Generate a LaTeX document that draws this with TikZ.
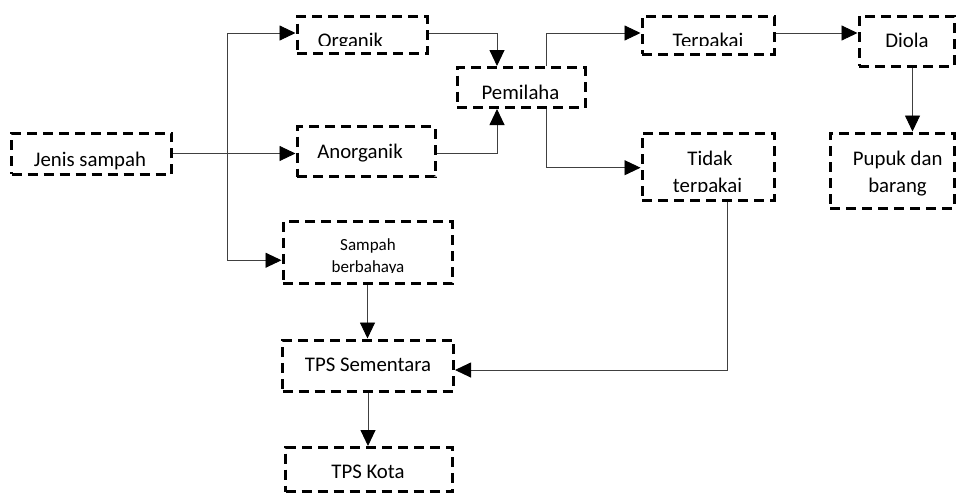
\documentclass[tikz,border=0pt]{standalone}
\usepackage{fontspec}
\setmainfont{Carlito}
\usetikzlibrary{arrows.meta,calc}
\tikzset{
  box/.style={draw=black, line width=3pt, dash pattern=on 10pt off 6pt, inner sep=0pt, text=black},
  lbl/.style={anchor=base, inner sep=0pt, font=\fontsize{20.8}{27}\selectfont},
  slbl/.style={anchor=base, inner sep=0pt, font=\fontsize{17}{21}\selectfont},
  arr/.style={draw=black!75, line width=0.9pt, -{Triangle[length=16pt,width=15pt,fill=black,color=black]}}
}
\begin{document}
\begin{tikzpicture}[x=1pt,y=-1pt]
\useasboundingbox (0,0) rectangle (957,493);
% boxes
\node[box, minimum width=160pt, minimum height=41pt] (jenis) at (91.5,153.5) {};
\node[box, minimum width=130pt, minimum height=37pt] (organik) at (362,35) {};
\node[box, minimum width=138pt, minimum height=50pt] (anorganik) at (366,151.5) {};
\node[box, minimum width=169pt, minimum height=62pt] (sampah) at (367.5,252.75) {};
\node[box, minimum width=128pt, minimum height=40pt] (pem) at (521,87.5) {};
\node[box, minimum width=132pt, minimum height=38pt] (terpakai) at (708,35) {};
\node[box, minimum width=95pt, minimum height=50pt] (diola) at (906.5,41) {};
\node[box, minimum width=132pt, minimum height=67pt] (tidak) at (708,166.7) {};
\node[box, minimum width=124pt, minimum height=75pt] (pupuk) at (892,170.5) {};
\node[box, minimum width=171pt, minimum height=51pt] (tpss) at (368,365.5) {};
\node[box, minimum width=167pt, minimum height=44pt] (tpsk) at (369,469.5) {};
% texts
\node[lbl] (tjenis) at (90,166) {Jenis sampah};
\begin{scope}
\clip (290,0) rectangle (440,45.5);
\node[lbl] (torganik) at (350.5,47.5) {Organik};
\end{scope}
\node[lbl] (tanorganik) at (360,158.3) {Anorganik};
\node[lbl] (tpem) at (520.5,99) {Pemilaha};
\begin{scope}
\clip (640,0) rectangle (780,45.5);
\node[lbl] (tterpakai) at (708,47.5) {Terpakai};
\end{scope}
\node[lbl] (tdiola) at (907,47.3) {Diola};
\node[lbl] (ttidak) at (710,165.7) {Tidak};
\begin{scope}
\clip (640,170) rectangle (780,191);
\node[lbl] (tterpakai2) at (707.5,192.7) {terpakai};
\end{scope}
\node[lbl] (tpupuk) at (897.7,165.7) {Pupuk dan};
\node[lbl] (tbarang) at (897.5,192.7) {barang};
\node[slbl] (tsampah) at (368,250) {Sampah};
\begin{scope}
\clip (285,255) rectangle (450,272.2);
\node[slbl] (tberbahaya) at (368,272) {berbahaya};
\end{scope}
\node[lbl] (ttpss) at (368,371.7) {TPS Sementara};
\node[lbl] (ttpsk) at (368,478.3) {TPS Kota};
% connectors
\coordinate (tr) at (227,153);
\draw[arr] (jenis.east) -- (anorganik.west |- jenis.east);
\draw[arr] (tr |- jenis.east) |- ([yshift=2pt]organik.west);
\draw[arr] (tr |- jenis.east) |- ([yshift=-7.5pt]sampah.west);
\draw[arr] ([yshift=2pt]organik.east) -| ([xshift=-24pt]pem.north);
\draw[arr] ([yshift=-1.5pt]anorganik.east) -| ([xshift=-24pt]pem.south);
\draw[arr] ([xshift=25pt]pem.north) |- ([yshift=2pt]terpakai.west);
\draw[arr] ([xshift=25pt]pem.south) |- ([yshift=-1pt]tidak.west);
\draw[arr] ([yshift=2pt]terpakai.east) coordinate (t1) -- (t1 -| diola.west);
\draw[arr] ([xshift=6pt]diola.south) coordinate (d1) -- (d1 |- pupuk.north);
\draw[arr] ([xshift=19pt]tidak.south) |- ([yshift=-4.5pt]tpss.east);
\draw[arr] (sampah.south) -- (sampah.south |- tpss.north);
\draw[arr] (tpss.south) -- (tpss.south |- tpsk.north);
\end{tikzpicture}
\end{document}
